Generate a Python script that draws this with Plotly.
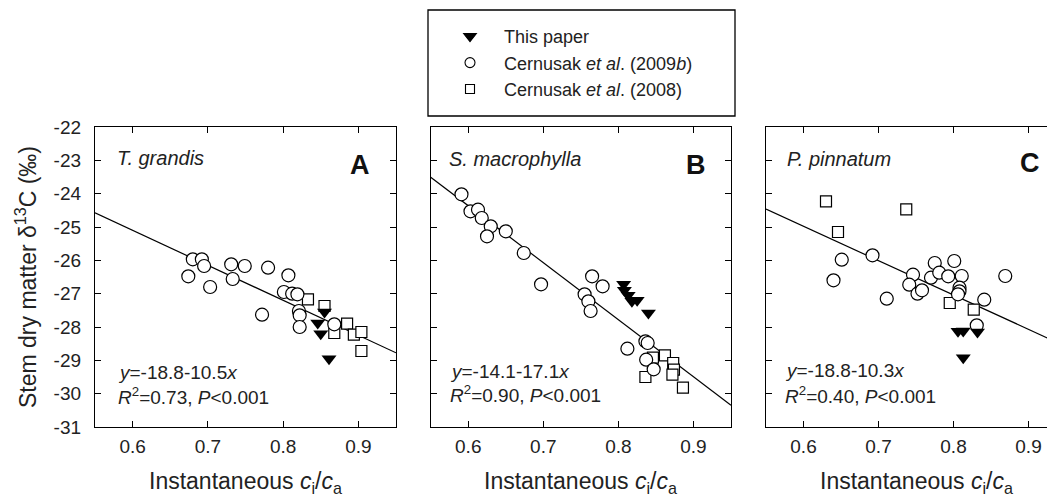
import plotly.graph_objects as go

# ---------------- data ----------------
# Panel A: T. grandis
a_circ_x = [0.680, 0.692, 0.695, 0.674, 0.703, 0.731, 0.749, 0.733, 0.780, 0.807, 0.772, 0.801, 0.812, 0.819, 0.821, 0.822, 0.822, 0.868]
a_circ_y = [-25.97, -25.97, -26.17, -26.48, -26.80, -26.12, -26.17, -26.56, -26.22, -26.45, -27.63, -26.95, -27.00, -27.02, -27.52, -27.65, -28.00, -27.92]
a_sq_x = [0.833, 0.855, 0.868, 0.885, 0.894, 0.904, 0.904]
a_sq_y = [-27.17, -27.37, -28.18, -27.90, -28.23, -28.15, -28.72]
a_tri_x = [0.846, 0.850, 0.855, 0.861]
a_tri_y = [-27.88, -28.20, -27.55, -28.95]

# Panel B: S. macrophylla
b_circ_x = [0.591, 0.603, 0.613, 0.618, 0.630, 0.625, 0.650, 0.674, 0.697, 0.765, 0.779, 0.755, 0.760, 0.763, 0.836, 0.839, 0.812, 0.837, 0.847]
b_circ_y = [-24.02, -24.53, -24.48, -24.73, -24.98, -25.28, -25.13, -25.78, -26.72, -26.48, -26.78, -27.02, -27.23, -27.52, -28.43, -28.48, -28.65, -28.98, -29.27]
b_sq_x = [0.846, 0.862, 0.873, 0.874, 0.872, 0.836, 0.886]
b_sq_y = [-28.92, -28.85, -29.08, -29.28, -29.43, -29.50, -29.82]
b_tri_x = [0.807, 0.808, 0.813, 0.818, 0.825, 0.840]
b_tri_y = [-26.72, -26.90, -27.05, -27.23, -27.20, -27.58]

# Panel C: P. pinnatum
c_circ_x = [0.651, 0.640, 0.692, 0.711, 0.746, 0.741, 0.752, 0.758, 0.770, 0.775, 0.781, 0.793, 0.801, 0.811, 0.808, 0.808, 0.806, 0.841, 0.869, 0.831]
c_circ_y = [-25.98, -26.60, -25.85, -27.15, -26.43, -26.73, -27.00, -26.90, -26.52, -26.08, -26.37, -26.48, -26.02, -26.47, -26.82, -26.93, -27.02, -27.18, -26.47, -27.95]
c_sq_x = [0.630, 0.646, 0.737, 0.795, 0.827]
c_sq_y = [-24.23, -25.15, -24.47, -27.28, -27.48]
c_tri_x = [0.806, 0.813, 0.832, 0.813]
c_tri_y = [-28.13, -28.12, -28.15, -28.92]

# regression fits printed on the panels (intercept, slope)
fit_intercepts = [-18.8, -14.1, -18.8]
fit_slopes = [-10.5, -17.1, -10.3]
fit_x_range = [0.55, 0.95]

species = ["T. grandis", "S. macrophylla", "P. pinnatum"]
panel_letters = ["A", "B", "C"]
eq_texts = ["<i>y</i>=-18.8-10.5<i>x</i>", "<i>y</i>=-14.1-17.1<i>x</i>", "<i>y</i>=-18.8-10.3<i>x</i>"]
r2_texts = ["<i>R</i><sup>2</sup>=0.73, <i>P</i><0.001",
            "<i>R</i><sup>2</sup>=0.90, <i>P</i><0.001",
            "<i>R</i><sup>2</sup>=0.40, <i>P</i><0.001"]
legend_names = ["This paper", "Cernusak <i>et al</i>. (2009<i>b</i>)", "Cernusak <i>et al</i>. (2008)"]
x_title = "Instantaneous <i>c</i><sub>i</sub>/<i>c</i><sub>a</sub>"
y_title = "Stem dry matter δ<sup>13</sup>C (‰)"
x_ticks = [0.6, 0.7, 0.8, 0.9]
y_ticks = [-31, -30, -29, -28, -27, -26, -25, -24, -23, -22]

panels = [
    (a_circ_x, a_circ_y, a_sq_x, a_sq_y, a_tri_x, a_tri_y),
    (b_circ_x, b_circ_y, b_sq_x, b_sq_y, b_tri_x, b_tri_y),
    (c_circ_x, c_circ_y, c_sq_x, c_sq_y, c_tri_x, c_tri_y),
]

# ---------------- figure ----------------
# the page body has an 8px margin, so the figure is drawn 8px in from the window corner
OFF = 8
VW, VH = 1055, 494
W, H = VW - OFF, VH - OFF
ML, MR, MT, MB = 95 - OFF, 0, 127 - OFF, VH - 427
PW = W - ML - MR
PH = H - MT - MB

FONT = "Liberation Sans, Arial, Helvetica, sans-serif"
fig = go.Figure()

axn = ["", "2", "3"]
for i, (cx, cy, sx, sy, tx, ty) in enumerate(panels):
    xa, ya = "x" + axn[i], "y" + axn[i]
    lx = fit_x_range
    ly = [fit_intercepts[i] + fit_slopes[i] * v for v in lx]
    fig.add_trace(go.Scatter(x=lx, y=ly, mode="lines", line=dict(color="black", width=1.2),
                             xaxis=xa, yaxis=ya, showlegend=False, hoverinfo="skip", cliponaxis=True))
    fig.add_trace(go.Scatter(x=sx, y=sy, mode="markers", xaxis=xa, yaxis=ya, showlegend=False,
                             marker=dict(symbol="square", size=11, color="white",
                                         line=dict(color="black", width=1.2))))
    fig.add_trace(go.Scatter(x=cx, y=cy, mode="markers", xaxis=xa, yaxis=ya, showlegend=False,
                             marker=dict(symbol="circle", size=13, color="white",
                                         line=dict(color="black", width=1.2))))
    fig.add_trace(go.Scatter(x=tx, y=ty, mode="markers", xaxis=xa, yaxis=ya, showlegend=False,
                             marker=dict(symbol="triangle-down", size=13, color="black",
                                         line=dict(color="black", width=0))))

# legend entries
leg_syms = [("triangle-down", "black", 11), ("circle", "white", 10), ("square", "white", 9)]
for name, (sym, col, sz) in zip(legend_names, leg_syms):
    fig.add_trace(go.Scatter(x=[None], y=[None], mode="markers", name=name, showlegend=True,
                             marker=dict(symbol=sym, size=sz, color=col,
                                         line=dict(color="black", width=1.1))))

# domains (window pixels)
px_dom = [(95, 396), (430.7, 731), (766, 1055)]
doms = [[(a - 95) / PW, (b - 95) / PW] for a, b in px_dom]
x_ranges = [[0.55, 0.95], [0.55, 0.95], [0.55, 0.55 + (1055 - 766) / 750]]

axis_common = dict(showline=True, linecolor="black", linewidth=1.3, ticks="inside",
                   ticklen=6, tickwidth=1.3, tickcolor="black", showgrid=False, zeroline=False,
                   tickfont=dict(family=FONT, size=19, color="#222"))

layout_axes = {}
for i in range(3):
    xk = "xaxis" + axn[i]
    yk = "yaxis" + axn[i]
    layout_axes[xk] = dict(axis_common, domain=doms[i], range=x_ranges[i], tickvals=x_ticks,
                           ticktext=[f"{v:.1f}" for v in x_ticks], mirror="ticks",
                           anchor="y" + axn[i], ticklabelstandoff=2)
    layout_axes[yk] = dict(axis_common, domain=[0, 1], range=[-31, -22], tickvals=y_ticks,
                           ticktext=[str(v) for v in y_ticks],
                           mirror=("ticks" if i < 2 else False), anchor="x" + axn[i],
                           showticklabels=(i == 0), ticklabelstandoff=9)
layout_axes["yaxis"]["title"] = dict(text=y_title,
                                     font=dict(family=FONT, size=23, color="#222"), standoff=10)

fig.update_layout(
    width=W, height=H, autosize=False,
    margin=dict(l=ML, r=MR, t=MT, b=MB, pad=0),
    paper_bgcolor="white", plot_bgcolor="white",
    font=dict(family=FONT, size=18, color="#222"),
    showlegend=True,
    legend=dict(x=(436 - 95) / PW, y=(427 - 18) / PH, xanchor="left", yanchor="top",
                bgcolor="rgba(0,0,0,0)", borderwidth=0, itemwidth=58,
                font=dict(family=FONT, size=18, color="#222"), traceorder="normal",
                itemclick=False),
    **layout_axes,
)

# legend box
fig.add_shape(type="rect", xref="paper", yref="paper",
              x0=(428 - 95) / PW, x1=(735 - 95) / PW,
              y0=(427 - 116) / PH, y1=(427 - 10) / PH,
              line=dict(color="black", width=1.3), fillcolor="rgba(0,0,0,0)")

sp_x = [(115 - 95) / 301, (446.7 - 430.7) / 300.3, (785 - 766) / 289]
sp_y = [(427 - 158.3) / 300, (427 - 159.3) / 300, (427 - 159.3) / 300]
let_x = [(371.7 - 95) / 301, (708.3 - 430.7) / 300.3, (1041.7 - 766) / 289]
let_y = [(427 - 165) / 300, (427 - 165) / 300, (427 - 163) / 300]
eq_x = [(116 - 95) / 301, (448.3 - 430.7) / 300.3, (783.3 - 766) / 289]
eq_y1 = [(427 - 372.5) / 300, (427 - 371.7) / 300, (427 - 370.5) / 300]
eq_y2 = [(427 - 395.5) / 300, (427 - 394) / 300, (427 - 395) / 300]
xt_x = [0.5, 0.5, (916 - 766) / 289]
xt_y = (427 - 482) / 300

for i in range(3):
    xr = "x" + axn[i] + " domain"
    yr = "y" + axn[i] + " domain"
    fig.add_annotation(text=f"<i>{species[i]}</i>", x=sp_x[i], y=sp_y[i], xref=xr, yref=yr,
                       xanchor="left", yanchor="middle", showarrow=False,
                       font=dict(family=FONT, size=20, color="#222"))
    fig.add_annotation(text=f"<b>{panel_letters[i]}</b>", x=let_x[i], y=let_y[i], xref=xr, yref=yr,
                       xanchor="right", yanchor="middle", showarrow=False,
                       font=dict(family=FONT, size=27, color="#111"))
    fig.add_annotation(text=eq_texts[i], x=eq_x[i], y=eq_y1[i], xref=xr, yref=yr,
                       xanchor="left", yanchor="middle", showarrow=False,
                       font=dict(family=FONT, size=19, color="#222"))
    fig.add_annotation(text=r2_texts[i], x=eq_x[i], y=eq_y2[i], xref=xr, yref=yr,
                       xanchor="left", yanchor="middle", showarrow=False,
                       font=dict(family=FONT, size=19, color="#222"))
    fig.add_annotation(text=x_title, x=xt_x[i], y=xt_y, xref=xr, yref=yr,
                       xanchor="center", yanchor="middle", showarrow=False,
                       font=dict(family=FONT, size=23, color="#222"))

fig.write_html("out.html")
